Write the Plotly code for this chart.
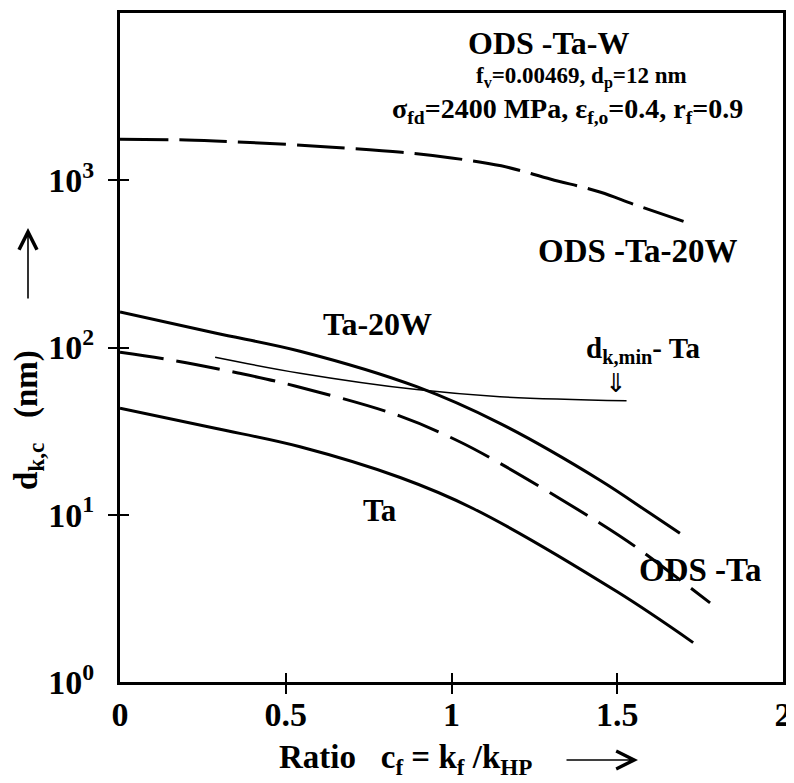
import plotly.graph_objects as go

# ---- data ----
ods_ta20w_x = [0.0, 0.2, 0.34, 0.5, 0.64, 0.85, 1.0, 1.15, 1.3, 1.45, 1.55, 1.7]
ods_ta20w_y = [1760, 1740, 1700, 1640, 1577, 1470, 1360, 1220, 1014, 848, 718, 568]

ta20w_x = [0.0, 0.287, 0.543, 0.895, 1.146, 1.448, 1.599, 1.689]
ta20w_y = [163, 122, 95, 58.3, 35.2, 16.1, 10.2, 7.75]

ods_ta_x = [0.0, 0.166, 0.356, 0.528, 0.845, 1.02, 1.146, 1.448, 1.557, 1.78]
ods_ta_y = [93.7, 83.4, 70.4, 58.9, 38.9, 27.6, 20.3, 8.9, 6.4, 2.97]

ta_x = [0.0, 0.287, 0.543, 0.845, 1.065, 1.5, 1.729]
ta_y = [43.3, 32.9, 25.5, 16.7, 10.9, 3.46, 1.72]

dkmin_x = [0.287, 0.543, 0.895, 1.146, 1.528]
dkmin_y = [87.4, 70.2, 56.0, 50.8, 48.1]

x_labels_at = [0, 0.5, 1, 1.5, 2]
x_ticktext = ["0", "0.5", "1", "1.5", "2"]
x_marks_at = [0.5, 1, 1.5]
y_labels_at = [1, 10, 100, 1000]
y_ticktext = ["10<sup>0</sup>", "10<sup>1</sup>", "10<sup>2</sup>", "10<sup>3</sup>"]
y_marks_at = [10, 100, 1000]

FONT = "Times New Roman, Liberation Serif, DejaVu Serif, serif"

fig = go.Figure()
fig.add_trace(go.Scatter(x=ods_ta20w_x, y=ods_ta20w_y, mode="lines",
                         line=dict(color="black", width=3, dash="48px,11px", shape="spline")))
fig.add_trace(go.Scatter(x=ta20w_x, y=ta20w_y, mode="lines",
                         line=dict(color="black", width=3, shape="spline")))
fig.add_trace(go.Scatter(x=ods_ta_x, y=ods_ta_y, mode="lines",
                         line=dict(color="black", width=3, dash="44px,13px", shape="spline")))
fig.add_trace(go.Scatter(x=ta_x, y=ta_y, mode="lines",
                         line=dict(color="black", width=3, shape="spline")))
fig.add_trace(go.Scatter(x=dkmin_x, y=dkmin_y, mode="lines",
                         line=dict(color="black", width=1.5, shape="spline")))

tickfont = dict(family=FONT, size=34, color="black")
common = dict(showgrid=False, zeroline=False, showline=True, linecolor="black",
              linewidth=3, mirror=True, automargin=False, tickfont=tickfont,
              ticks="inside", ticklen=9, tickwidth=2, tickcolor="black")

# page body has an 8px margin; figure is sized to fit the 794x783 window
fig.update_layout(
    width=786, height=775,
    margin=dict(l=112, r=11, t=5, b=101),
    paper_bgcolor="white", plot_bgcolor="white",
    showlegend=False,
    font=dict(family=FONT, color="black"),
    xaxis=dict(range=[0, 2], tickvals=x_labels_at, ticklabelstandoff=0,
               ticktext=["<b>%s</b>" % t for t in x_ticktext],
               minor=dict(tickvals=x_marks_at, ticks="outside", ticklen=9, tickwidth=2,
                          tickcolor="black", showgrid=False),
               **common),
    yaxis=dict(type="log", range=[0, 4], tickvals=y_labels_at, ticklabelstandoff=16,
               ticktext=["<b>%s</b>" % t for t in y_ticktext],
               minor=dict(tickvals=y_marks_at, ticks="outside", ticklen=9, tickwidth=2,
                          tickcolor="black", showgrid=False),
               **common),
)

def ann(x, y, text, size, xanchor="center", angle=0, family=FONT):
    fig.add_annotation(x=x, y=y, xref="paper", yref="paper", text=text, showarrow=False,
                       xanchor=xanchor, yanchor="middle", textangle=angle,
                       font=dict(family=family, size=size, color="black"))

# positions given in window pixels; plot area spans x 120..783, y 13..682
W, H = 663.0, 669.0
def px(xp, yp):
    return (xp - 120) / W, (682 - yp) / H

ann(*px(549, 43), "<b>ODS -Ta-W</b>", 32)
ann(*px(581, 77), "<b>f<sub>v</sub>=0.00469, d<sub>p</sub>=12 nm</b>", 23)
ann(*px(567, 110), "<b>σ<sub>fd</sub>=2400 MPa, ε<sub>f,o</sub>=0.4, r<sub>f</sub>=0.9</b>", 28)
ann(*px(638, 251), "<b>ODS -Ta-20W</b>", 33)
ann(*px(377, 324), "<b>Ta-20W</b>", 32)
ann(*px(643, 350), "<b>d<sub>k,min</sub>- Ta</b>", 29)
ann(*px(616, 383), "⇓", 26, family="DejaVu Sans")
ann(*px(380, 511), "<b>Ta</b>", 31)
ann(*px(700, 570), "<b>ODS -Ta</b>", 33)

# axis titles
ann(*px(28, 420), "<b>d<sub>k,c</sub>\u00a0\u00a0\u00a0(nm)</b>", 33, angle=-90)
ann(*px(277, 760), "<b>Ratio\u00a0\u00a0\u00a0c<sub>f</sub> = k<sub>f</sub> /k<sub>HP</sub></b>", 33, xanchor="left")

# the open arrows next to the axis titles
def arrow(tip_x, tip_y, dx, dy):
    xp, yp = px(tip_x, tip_y)
    fig.add_annotation(x=xp, y=yp, xref="paper", yref="paper", text="", showarrow=True,
                       ax=dx, ay=dy, arrowhead=5, arrowsize=2.2, arrowwidth=1.6,
                       arrowcolor="black")

arrow(28, 228, 0, 72)
arrow(638, 760, -73, 0)

fig.write_html("out.html")
